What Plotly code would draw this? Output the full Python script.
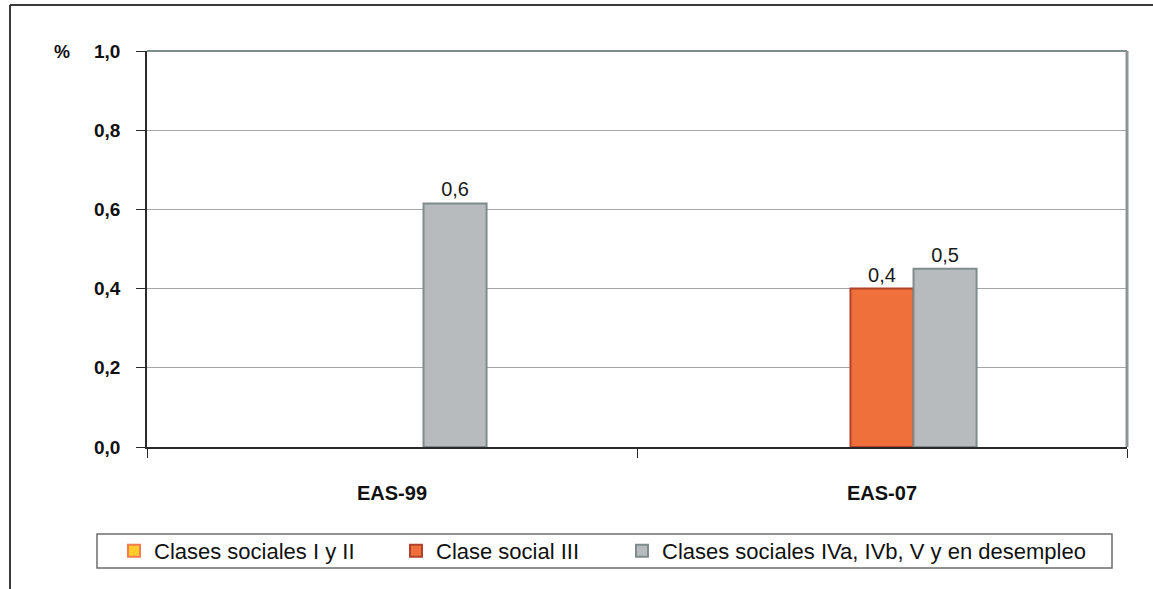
import plotly.graph_objects as go

categories = ["EAS-99", "EAS-07"]
series_names = ["Clases sociales I y II", "Clase social III", "Clases sociales IVa, IVb, V y en desempleo"]
clases_I_II = [None, None]
clase_III = [None, 0.40]
clases_IV_V = [0.615, 0.45]
y_ticks = [0.0, 0.2, 0.4, 0.6, 0.8, 1.0]

fills = ["#ffcc29", "#f0703c", "#b7bbbd"]
borders = ["#f47c50", "#b0432a", "#7f8c8c"]

W, H = 1153, 589
L, R, T, B = 147, 26, 51, 142
pw, ph = W - L - R, H - T - B

def px(x):
    return (x - L) / pw

def py(y):
    return (H - B - y) / ph

legend_ids = ["legend", "legend2", "legend3"]
legend_left = [114, 396, 622]

fig = go.Figure()
for name, vals, f, b, lg in zip(series_names, [clases_I_II, clase_III, clases_IV_V], fills, borders, legend_ids):
    fig.add_trace(go.Bar(
        x=categories, y=vals, name=name, legend=lg,
        marker=dict(color=f, line=dict(color=b, width=2)),
        texttemplate="%{y:.1f}", textposition="outside",
        textfont=dict(family="Liberation Sans, Arial", size=20, color="#1a1a1a"),
        cliponaxis=False,
    ))

legend_font = dict(family="Liberation Sans, Arial", size=22, color="#111111")
legends = {}
for lg, xl in zip(legend_ids, legend_left):
    legends[lg] = dict(
        orientation="h", x=px(xl), xanchor="left", y=py(551), yanchor="middle",
        font=legend_font, borderwidth=0, bgcolor="rgba(0,0,0,0)",
    )

fig.update_layout(
    width=W, height=H,
    margin=dict(l=L, r=R, t=T, b=B),
    paper_bgcolor="white", plot_bgcolor="white",
    barmode="group", bargap=0.614, bargroupgap=0,
    separators=",.",
    showlegend=True,
    xaxis=dict(
        type="category", showgrid=False, showline=True, linecolor="#2a2a2a", linewidth=2,
        ticks="outside", ticklen=9, tickcolor="#2a2a2a", tickson="boundaries",
        tickfont=dict(family="Liberation Sans, Arial", size=20, color="#111111", weight="bold"),
        ticklabelstandoff=27,
    ),
    yaxis=dict(
        range=[0, 1.0], tickvals=y_ticks, tickformat=".1f",
        showgrid=True, gridcolor="#a6a6a6", gridwidth=1,
        showline=True, linecolor="#2a2a2a", linewidth=1.5, zeroline=False,
        ticks="outside", ticklen=9, tickcolor="#2a2a2a",
        tickfont=dict(family="Liberation Sans, Arial", size=19, color="#111111", weight="bold"),
        ticklabelstandoff=12,
    ),
    shapes=[
        dict(type="line", xref="paper", yref="paper", x0=0, x1=1, y0=1, y1=1,
             line=dict(color="#7f8c8c", width=2)),
        dict(type="line", xref="paper", yref="paper", x0=1, x1=1, y0=0, y1=1,
             line=dict(color="#8c9696", width=3)),
        dict(type="line", xref="paper", yref="paper", x0=px(10), x1=px(1153), y0=py(5), y1=py(5),
             line=dict(color="#3a3a3a", width=2)),
        dict(type="line", xref="paper", yref="paper", x0=px(10), x1=px(10), y0=py(5), y1=py(589),
             line=dict(color="#3a3a3a", width=2)),
        dict(type="rect", xref="paper", yref="paper", x0=px(97), x1=px(1112), y0=py(534), y1=py(568),
             line=dict(color="#6e6e6e", width=1.5)),
    ],
    annotations=[
        dict(text="%", xref="paper", yref="paper", x=px(62), y=py(52), xanchor="center", yanchor="middle",
             showarrow=False, font=dict(family="Liberation Sans, Arial", size=18, color="#111111", weight="bold")),
    ],
    **legends,
)

fig.write_html("out.html", post_script="document.body.style.margin='0px';",
               config={"displayModeBar": False})
